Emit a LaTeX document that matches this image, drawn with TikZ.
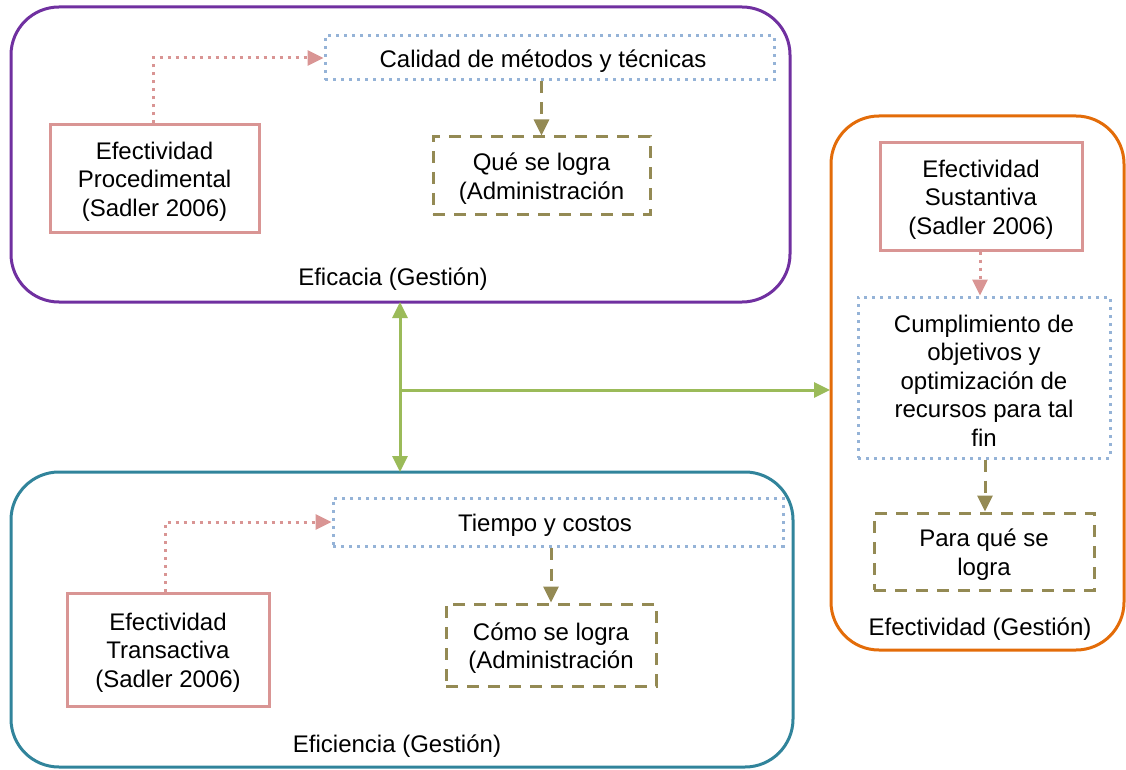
\documentclass[tikz,border=0pt]{standalone}
\usepackage{fontspec}
\setmainfont{Liberation Sans}
\usetikzlibrary{arrows.meta,positioning}
\definecolor{cpurple}{HTML}{7030A0}
\definecolor{cteal}{HTML}{31849B}
\definecolor{corange}{HTML}{E36C09}
\definecolor{cpink}{HTML}{D99594}
\definecolor{cblue}{HTML}{95B3D7}
\definecolor{colive}{HTML}{948A54}
\definecolor{cgreen}{HTML}{9BBB59}
\tikzset{
  x=1pt,y=-1pt,
  every node/.style={font=\fontsize{24}{28.5}\selectfont, align=center, inner sep=0pt},
  bigbox/.style={draw, line width=3pt, rounded corners=48pt},
  pinkbox/.style={draw=cpink, line width=3pt},
  bluebox/.style={draw=cblue, line width=3pt, dash pattern=on 3pt off 5pt},
  olivebox/.style={draw=colive, line width=3pt, dash pattern=on 12pt off 9pt},
  pinkarrow/.style={draw=cpink, line width=3pt, dash pattern=on 3pt off 5pt, -{Triangle[length=16pt,width=15pt]}},
  olivearrow/.style={draw=colive, line width=3pt, dash pattern=on 12pt off 9pt, -{Triangle[length=16pt,width=15pt]}},
  greenarrow/.style={draw=cgreen, line width=3pt, -{Triangle[length=16pt,width=15pt]}},
  lbl/.style={yshift=-3pt},
}
\begin{document}
\begin{tikzpicture}
\useasboundingbox (0,0) rectangle (1126,770);
% purple box
\draw[bigbox, draw=cpurple] (11,7) rectangle (790,302);
\node[lbl] (eficacia) at (393,276) {Eficacia (Gestión)};
\node[pinkbox, minimum width=209pt, minimum height=107pt] (proc) at (154.5,178.5) {};
\node[lbl] at (proc) {Efectividad\\Procedimental\\(Sadler 2006)};
\node[bluebox, minimum width=449pt, minimum height=44pt] (cal) at (549.5,58) {};
\node[lbl] at (543,58) {Calidad de métodos y técnicas};
\node[olivebox, minimum width=217pt, minimum height=77pt] (que) at (541.5,175.5) {};
\node[lbl] at (que) {Qué se logra\\(Administración};
\draw[pinkarrow] (proc.north -| 153,0) |- (cal.west);
\draw[olivearrow] (cal.south -| que.north) -- (que.north);

% teal box
\draw[bigbox, draw=cteal] (11,472) rectangle (793,767);
\node[lbl] (eficiencia) at (397,743) {Eficiencia (Gestión)};
\node[pinkbox, minimum width=202pt, minimum height=113pt] (trans) at (168,649.5) {};
\node[lbl] at (trans) {Efectividad\\Transactiva\\(Sadler 2006)};
\node[bluebox, minimum width=450pt, minimum height=48pt] (tie) at (558,522) {};
\node[lbl] at (545,522) {Tiempo y costos};
\node[olivebox, minimum width=210pt, minimum height=82pt] (como) at (551,645) {};
\node[lbl] at (como) {Cómo se logra\\(Administración};
\draw[pinkarrow] (trans.north -| 165,0) |- (tie.west);
\draw[olivearrow] (tie.south -| como.north) -- (como.north);

% orange box
\draw[bigbox, draw=corange] (831,116) rectangle (1124,650);
\node[lbl] (efect) at (980,626) {Efectividad (Gestión)};
\node[pinkbox, minimum width=202pt, minimum height=107pt] (sust) at (981,196.5) {};
\node[lbl] at (sust) {Efectividad\\Sustantiva\\(Sadler 2006)};
\node[bluebox, minimum width=252pt, minimum height=161pt] (cump) at (984,377.5) {};
\node[lbl] at (cump) {Cumplimiento de\\objetivos y\\optimización de\\recursos para tal\\fin};
\node[olivebox, minimum width=220pt, minimum height=77pt] (para) at (984,551.5) {};
\node[lbl] at (para) {Para qué se\\logra};
\draw[pinkarrow] (sust.south -| 980,0) -- (cump.north -| 980,0);
\draw[olivearrow] (cump.south -| 985,0) -- (para.north -| 985,0);

% green connectors
\coordinate (top) at (400,302);
\coordinate (bot) at (400,472);
\coordinate (mid) at (400,390);
\coordinate (right) at (830,390);
\draw[greenarrow, {Triangle[length=16pt,width=15pt]}-{Triangle[length=16pt,width=15pt]}] (top) -- (bot);
\draw[greenarrow] (mid) -- (right);
\end{tikzpicture}
\end{document}
